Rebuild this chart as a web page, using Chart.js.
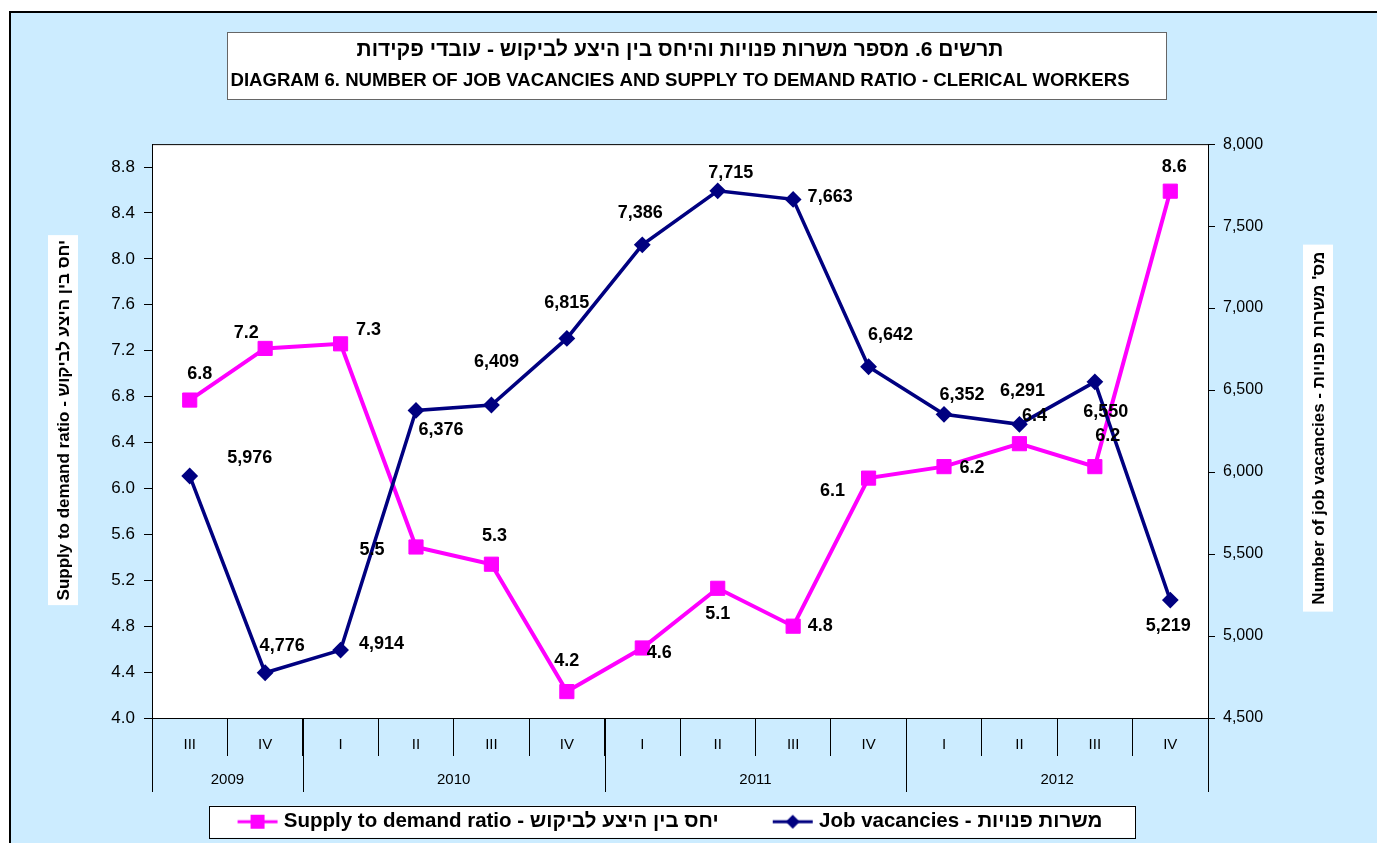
<!DOCTYPE html>
<html>
<head>
<meta charset="utf-8">
<script src="https://cdn.jsdelivr.net/npm/chart.js@4.4.1/dist/chart.umd.min.js"></script>
<style>
body { margin: 0; background: #fff; }
canvas { display: block; }
</style>
</head>
<body>
<canvas id="grafico" width="1377" height="843"></canvas>
<script>
// Dados
const trimestres = ['III', 'IV', 'I', 'II', 'III', 'IV', 'I', 'II', 'III', 'IV', 'I', 'II', 'III', 'IV'];
const anos = ['2009', '2010', '2011', '2012'];
const trimestresPorAno = [2, 4, 4, 4];
const razaoOfertaDemanda = [6.77, 7.22, 7.26, 5.49, 5.34, 4.23, 4.61, 5.13, 4.80, 6.09, 6.19, 6.39, 6.19, 8.59];
const vagas = [5976, 4776, 4914, 6376, 6409, 6815, 7386, 7715, 7663, 6642, 6352, 6291, 6550, 5219];

// Posição dos rótulos em relação ao ponto (dx, dy)
const deslocRazao = [[10,-26],[-19,-15],[28,-14],[-44,3],[3,-28],[0,-31],[17,5],[0,26],[27,0],[-36,13],[28,1],[15,-28],[13,-31],[4,-24]];
const deslocVagas = [[60,-18],[17,-27],[41,-6],[25,20],[5,-43],[0,-35],[-2,-32],[13,-18],[37,-2],[22,-32],[18,-19],[3,-33],[11,30],[-2,26]];

const ROSA = '#FF00FF';
const AZUL = '#000080';
const FONTE = '"Liberation Sans", Arial, sans-serif';

Chart.defaults.font.family = FONTE;
Chart.defaults.color = '#000';

// Ícone da legenda: linha com marcador
function criarIcone(cor, losango) {
    const c = document.createElement('canvas');
    c.width = 58; c.height = 18;
    const g = c.getContext('2d');
    g.strokeStyle = cor;
    g.fillStyle = cor;
    g.lineWidth = 3;
    g.beginPath(); g.moveTo(13, 9); g.lineTo(53, 9); g.stroke();
    if (losango) {
        g.beginPath();
        g.moveTo(33, 2); g.lineTo(40, 9); g.lineTo(33, 16); g.lineTo(26, 9);
        g.closePath(); g.fill();
    } else {
        g.fillRect(26, 2, 14, 14);
    }
    return c;
}

function tituloVertical(ctx, texto, cx, cy, comprimento) {
    ctx.save();
    ctx.translate(cx, cy);
    ctx.rotate(-Math.PI / 2);
    ctx.fillStyle = '#fff';
    ctx.fillRect(-comprimento / 2, -15, comprimento, 30);
    ctx.fillStyle = '#000';
    ctx.font = 'bold 17px ' + FONTE;
    ctx.textAlign = 'center';
    ctx.textBaseline = 'middle';
    ctx.fillText(texto, 0, 1);
    ctx.restore();
}

// Fundo, moldura, caixas do título e legenda
const pluginFundo = {
    id: 'fundo',
    beforeDraw(chart) {
        const ctx = chart.ctx;
        const a = chart.chartArea;
        ctx.save();
        ctx.fillStyle = '#fff';
        ctx.fillRect(0, 0, chart.width, chart.height);
        ctx.fillStyle = '#CCECFF';
        ctx.fillRect(10, 12, chart.width, chart.height);
        ctx.strokeStyle = '#000';
        ctx.lineWidth = 2;
        ctx.strokeRect(10, 12, chart.width + 20, chart.height + 20);

        // caixa do título
        ctx.fillStyle = '#fff';
        ctx.fillRect(227, 32, 939, 67);
        ctx.strokeStyle = '#666';
        ctx.lineWidth = 1;
        ctx.strokeRect(227.5, 32.5, 939, 67);

        // área de plotagem
        ctx.fillStyle = '#fff';
        ctx.fillRect(a.left, a.top, a.right - a.left, a.bottom - a.top);
        ctx.strokeStyle = '#000';
        ctx.strokeRect(a.left + 0.5, a.top + 0.5, a.right - a.left, a.bottom - a.top);

        // caixa da legenda
        const hb = chart.legend.legendHitBoxes;
        if (hb && hb.length) {
            const ultimo = hb[hb.length - 1];
            const esq = hb[0].left + 4.5 - 29;
            const dir = ultimo.left + ultimo.width + 33;
            const cy = hb[0].top + hb[0].height / 2;
            ctx.fillStyle = '#fff';
            ctx.fillRect(esq, cy - 16, dir - esq, 32);
            ctx.strokeStyle = '#000';
            ctx.strokeRect(Math.round(esq) + 0.5, Math.round(cy - 16) + 0.5, Math.round(dir - esq), 32);
        }

        tituloVertical(ctx, 'Supply to demand ratio - יחס בין היצע לביקוש', a.left - 89, a.top + 276, 370);
        tituloVertical(ctx, "Number of job vacancies - מס' משרות פנויות", a.right + 110, a.top + 284, 367);
        ctx.restore();
    },
    afterDraw(chart) {
        // anos abaixo dos trimestres
        const ctx = chart.ctx;
        const x = chart.scales.x;
        const base = chart.chartArea.bottom;
        ctx.save();
        ctx.strokeStyle = '#000';
        ctx.lineWidth = 1;
        ctx.fillStyle = '#000';
        ctx.font = '15px ' + FONTE;
        ctx.textAlign = 'center';
        ctx.textBaseline = 'middle';
        let inicio = 0;
        anos.forEach((ano, k) => {
            const fim = inicio + trimestresPorAno[k];
            const xEsq = x.getPixelForValue(inicio - 0.5);
            const xDir = x.getPixelForValue(fim - 0.5);
            [xEsq, xDir].forEach(px => {
                ctx.beginPath();
                ctx.moveTo(Math.round(px) + 0.5, base);
                ctx.lineTo(Math.round(px) + 0.5, base + 74);
                ctx.stroke();
            });
            ctx.fillText(ano, (xEsq + xDir) / 2, base + 62);
            inicio = fim;
        });
        ctx.restore();
    }
};

// Rótulos de dados
const pluginRotulos = {
    id: 'rotulos',
    afterDatasetsDraw(chart) {
        const ctx = chart.ctx;
        ctx.save();
        ctx.font = 'bold 18px ' + FONTE;
        ctx.fillStyle = '#000';
        ctx.textAlign = 'center';
        ctx.textBaseline = 'middle';
        chart.data.datasets.forEach((ds, i) => {
            const meta = chart.getDatasetMeta(i);
            meta.data.forEach((pt, j) => {
                const [dx, dy] = ds.deslocamentos[j];
                ctx.fillText(ds.formatar(ds.data[j]), pt.x + dx, pt.y + dy);
            });
        });
        ctx.restore();
    }
};

new Chart(document.getElementById('grafico'), {
    type: 'line',
    data: {
        labels: trimestres,
        datasets: [{
            label: 'Supply to demand ratio - יחס בין היצע לביקוש',
            data: razaoOfertaDemanda,
            yAxisID: 'y',
            borderColor: ROSA,
            backgroundColor: ROSA,
            borderWidth: 4,
            pointStyle: 'rect',
            pointRadius: 10,
            pointBorderWidth: 1,
            pointHoverRadius: 10,
            tension: 0,
            order: 2,
            iconeLegenda: criarIcone(ROSA, false),
            deslocamentos: deslocRazao,
            formatar: v => v.toFixed(1)
        }, {
            label: 'Job vacancies - משרות פנויות',
            data: vagas,
            yAxisID: 'y1',
            borderColor: AZUL,
            backgroundColor: AZUL,
            borderWidth: 3.5,
            pointStyle: 'rectRot',
            pointRadius: 7,
            pointBorderWidth: 2,
            pointHoverRadius: 7,
            tension: 0,
            order: 1,
            iconeLegenda: criarIcone(AZUL, true),
            deslocamentos: deslocVagas,
            formatar: v => v.toLocaleString('en-US')
        }]
    },
    options: {
        responsive: false,
        animation: false,
        layout: { padding: { left: 0, right: 41, top: 0, bottom: 1 } },
        plugins: {
            title: {
                display: true,
                fullSize: false,
                text: 'תרשים 6. מספר משרות פנויות והיחס בין היצע לביקוש - עובדי פקידות',
                font: { size: 21, weight: 'bold' },
                color: '#000',
                padding: { top: 37.4, bottom: 0 }
            },
            subtitle: {
                display: true,
                fullSize: false,
                text: 'DIAGRAM 6. NUMBER OF JOB VACANCIES AND SUPPLY TO DEMAND RATIO - CLERICAL WORKERS',
                font: { size: 18.6, weight: 'bold' },
                color: '#000',
                padding: { top: 7.2, bottom: 52 }
            },
            legend: {
                position: 'bottom',
                labels: {
                    usePointStyle: true,
                    pointStyleWidth: 40,
                    padding: 50,
                    color: '#000',
                    font: { size: 20.5, weight: 'bold' },
                    generateLabels: chart => chart.data.datasets.map((ds, i) => ({
                        text: ds.label,
                        pointStyle: ds.iconeLegenda,
                        fillStyle: ds.borderColor,
                        strokeStyle: ds.borderColor,
                        lineWidth: 0,
                        hidden: false,
                        datasetIndex: i,
                        fontColor: '#000'
                    }))
                }
            },
            tooltip: { enabled: false }
        },
        scales: {
            x: {
                offset: true,
                grid: { offset: true, drawOnChartArea: false, tickLength: 38, color: '#000' },
                border: { color: '#000' },
                ticks: { autoSkip: false, maxRotation: 0, padding: -20, font: { size: 15 }, color: '#000' },
                afterFit: s => { s.height = 43.5; }
            },
            y: {
                position: 'left',
                min: 4,
                max: 9,
                grid: { drawOnChartArea: false, tickLength: 8, color: '#000' },
                border: { color: '#000' },
                ticks: {
                    stepSize: 0.4,
                    includeBounds: false,
                    padding: 9,
                    font: { size: 17 },
                    color: '#000',
                    callback: v => v.toFixed(1)
                },
                afterFit: s => { s.width = 152; }
            },
            y1: {
                position: 'right',
                min: 4500,
                max: 8000,
                grid: { drawOnChartArea: false, tickLength: 7, color: '#000' },
                border: { color: '#000' },
                ticks: {
                    stepSize: 500,
                    padding: 8,
                    font: { size: 16 },
                    color: '#000',
                    callback: v => v.toLocaleString('en-US')
                },
                afterFit: s => { s.width = 128; }
            }
        }
    },
    plugins: [pluginFundo, pluginRotulos]
});
</script>
</body>
</html>
